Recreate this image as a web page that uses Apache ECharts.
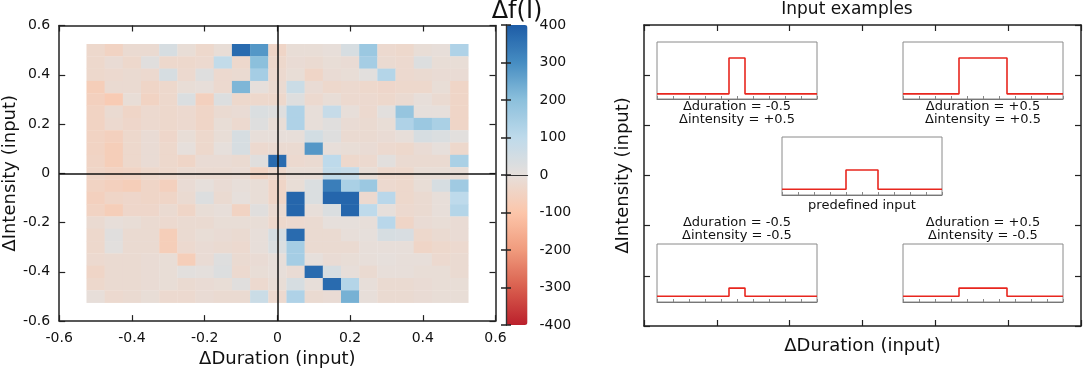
<!DOCTYPE html>
<html>
<head>
<meta charset="utf-8">
<script src="https://cdn.jsdelivr.net/npm/echarts@6/dist/echarts.min.js"></script>
<style>
  html, body { margin: 0; padding: 0; background: #fff; }
  #chart { width: 1084px; height: 373px; }
</style>
</head>
<body>
<div id="chart"></div>
<script>
// x categories (ΔDuration) and y categories (ΔIntensity, top row first)
var durations = [-0.5, -0.45, -0.4, -0.35, -0.3, -0.25, -0.2, -0.15, -0.1, -0.05, 0,
                 0.05, 0.1, 0.15, 0.2, 0.25, 0.3, 0.35, 0.4, 0.45, 0.5];
var intensities = [0.5, 0.45, 0.4, 0.35, 0.3, 0.25, 0.2, 0.15, 0.1, 0.05, 0,
                   -0.05, -0.1, -0.15, -0.2, -0.25, -0.3, -0.35, -0.4, -0.45, -0.5];

// Δf(I), one row per intensity
var deltaF = [
  [-30,-50,-20,-20, 40,-10,-30,-10,370,280,-40,-10,-10, -5, 40,170,-25,-30,-10, -5,130],
  [-30,-15,-30, 15,-30,-30,-25, 90,-30,200,-30,-15,-20,-10,-15,150,-20,-25, 25,-10,-10],
  [-30,-25,-20,-25, 40,-25, 20,-25,-20,150,-25,-10,-40,-15,-10, 10,120,-25,-20,-15,-15],
  [-70,-20,-20,-40,-30,-10, -5,-25,220,  0,-20, 70,-15,-30,-25,-30,-35,-30,-30,-10,-40],
  [-60,-80,-10,-50,-30, 30,-60, 25,-30,-30,-30, 20,-25,-10,-25,-25,-30,-20, -5,-20,-40],
  [-50,-20,-40,-25,-30,-25,-40,-20,-15, 30, 20,130, -5, 80, -5,-25, 10,180,  0,  0,-40],
  [-50,-25,-35,-25,-30,-25,-40,-10,-25, 20,-10,130, -5, 15,-15,-20,-10,130,170,140,-40],
  [-50,-60,-30,-15,-35,-10,-30,-10, 40, -5, -5, -5, 50, 20,-20,-20,-15, -5, 40, 30, 10],
  [-50,-70,-30,-15,-30,  0,-30,  0, 40,-25,-20,-20,280, -5,-10,-15,-25,-30,-15,  0,-30],
  [-45,-70,-30,-15,-30,-40,-15,-15,-20, 15,370,-25,-20,100,-30,-25, 10,-20,-20,-20,140],
  [-40,-50,-45,-30,-30,-20,-20,-20,-15,-50,-30,-10,-10, 90, 80,-10,-30,-30,-10,-10,-10],
  [-50,-60,-70,-40,-60,-15,  0,-15, -5,-10,-40,-10, 30,330,140,170,-25,-30,-10, 40,160],
  [-60,-40,-35,-40,-40,-20, 25,-20,  0,-10,-40,380, 30,380,380,-25,110,-30,-20, -5,100],
  [-50,-70,-35,-35,-20,-40,-10, -5,-50, 15,-20,380, -5, 30,380,100,  0,-25,-20, -5,120],
  [-20, -5,-10,-20,-25,-20,-20,-10,-10,-10,-30,-25,-20,  0,  0, -5,110,-40,-15,-10,-15],
  [-30, 15,-20,-20,-70,-20,-10,-15,-20, -5, 40,370,-20,-20, -5,  0, 40, 35,-30,-20,-15],
  [-30, 10,-20,-20,-70,-25,-15,-20,-25, -5, 30,150,-20,-20,-20, -5, -5, -5,-40,-30,-25],
  [-25,-20,-20,-15,-10,-70,-15, 20,-20,-15, -5,150,  0,-15,-10, -5,  0, -5, -5,-25,-20],
  [-40,-20,-20,-15,-10, 10,  5, 25,-25,-10, -5,-15,370, 40, -5,-20, -5, -5,-10,-10,-20],
  [-30,-20,-20,-15,-10,-20,-15,-10, 15,-25,-10, 40, -5,370,120, -5,-20,-20,-15,-10,-10],
  [ -5,-25,-20,-10,-25,-25,-15,-20,-20, 70,-25,130,-20,-15,230, -5,-20,-20,-15,-10,-10]
];

// colour bar ticks
var barTicks = [-400, -300, -200, -100, 0, 100, 200, 300, 400];

// input example pulses: TL, TR, centre, BL, BR
var pulseStart = [4.5, 3.5, 4, 4.5, 3.5];
var pulseEnd   = [5.5, 6.5, 6, 5.5, 6.5];
var pulseLevel = [0.72, 0.72, 0.43, 0.24, 0.24];
var baseLevel  = [0.09, 0.09, 0.1, 0.1, 0.1];
var insetLabels = [
  ['Δduration = -0.5', 'Δintensity = +0.5'],
  ['Δduration = +0.5', 'Δintensity = +0.5'],
  ['predefined input'],
  ['Δduration = -0.5', 'Δintensity = -0.5'],
  ['Δduration = +0.5', 'Δintensity = -0.5']
];

var FONT = 'DejaVu Sans';
var AX = '#222';

var heatData = [];
intensities.forEach(function (y, r) {
  durations.forEach(function (x, c) {
    heatData.push([x, y, deltaF[r][c]]);
  });
});
var cellW = Math.abs(durations[1] - durations[0]);
var cellH = Math.abs(intensities[0] - intensities[1]);

// inset boxes
var insetBoxes = [
  { left: 657, top: 42, width: 160, height: 57 },
  { left: 903, top: 42, width: 160, height: 57 },
  { left: 782, top: 137, width: 160, height: 58 },
  { left: 657, top: 244, width: 160, height: 58 },
  { left: 903, top: 244, width: 160, height: 58 }
];

var grids = [
  { left: 57.5, top: 25.5, width: 438, height: 300 },   // heatmap
  { left: 506, top: 25, width: 21.5, height: 300 },     // colour bar axis
  { left: 644, top: 25, width: 437, height: 301 }       // input examples panel
];
insetBoxes.forEach(function (b) {
  grids.push({ left: b.left, top: b.top, width: b.width, height: b.height,
               show: true, borderColor: '#8a8a8a', borderWidth: 1, backgroundColor: '#fff' });
});

function valAxis(grid, pos, opts) {
  var a = {
    type: 'value', gridIndex: grid, position: pos, min: -0.6, max: 0.6, interval: 0.2,
    axisLine: { show: true, onZero: false, lineStyle: { color: AX, width: 1.5 } },
    axisTick: { show: true, inside: true, length: 6, lineStyle: { color: AX, width: 1.2 } },
    axisLabel: { show: false },
    splitLine: { show: false }
  };
  return Object.assign(a, opts || {});
}

var xAxes = [
  valAxis(0, 'bottom', {
    axisLabel: { show: true, color: '#111', fontSize: 14, margin: 10, fontFamily: FONT,
      formatter: function (v) { return +v.toFixed(1) + ''; } },
    name: 'ΔDuration (input)', nameLocation: 'middle', nameGap: 28,
    nameTextStyle: { fontSize: 18, color: '#111', fontFamily: FONT }
  }),
  valAxis(0, 'top'),
  { type: 'value', gridIndex: 1, position: 'bottom', min: 0, max: 1, z: 10,
    axisLine: { show: true, lineStyle: { color: '#333', width: 1.2 } },
    axisTick: { show: false }, axisLabel: { show: false }, splitLine: { show: false } },
  { type: 'value', gridIndex: 1, position: 'top', min: 0, max: 1, z: 10,
    axisLine: { show: true, lineStyle: { color: '#333', width: 1.2 } },
    axisTick: { show: false }, axisLabel: { show: false }, splitLine: { show: false } },
  valAxis(2, 'bottom', {
    name: 'ΔDuration (input)', nameLocation: 'middle', nameGap: 11,
    nameTextStyle: { fontSize: 18, color: '#111', fontFamily: FONT, verticalAlign: 'top' }
  }),
  valAxis(2, 'top')
];
var yAxes = [
  valAxis(0, 'left', {
    axisLabel: { show: true, color: '#111', fontSize: 14, margin: 9, fontFamily: FONT,
      formatter: function (v) { return +v.toFixed(1) + ''; } },
    name: 'ΔIntensity (input)', nameLocation: 'middle', nameGap: 38,
    nameTextStyle: { fontSize: 18, color: '#111', fontFamily: FONT }
  }),
  valAxis(0, 'right'),
  { type: 'value', gridIndex: 1, position: 'left', min: barTicks[0], max: barTicks[barTicks.length - 1],
    interval: 100, z: 10,
    axisLine: { show: true, lineStyle: { color: '#333', width: 1.2 } },
    axisTick: { show: true, inside: true, length: 5, lineStyle: { color: '#222', width: 1.5 } },
    axisLabel: { show: false }, splitLine: { show: false } },
  { type: 'value', gridIndex: 1, position: 'right', min: barTicks[0], max: barTicks[barTicks.length - 1],
    interval: 100, z: 10,
    axisLine: { show: true, lineStyle: { color: '#333', width: 1.2 } },
    axisTick: { show: true, inside: true, length: 5, lineStyle: { color: '#222', width: 1.5 } },
    axisLabel: { show: true, color: '#111', fontSize: 14, margin: 12, fontFamily: FONT },
    splitLine: { show: false } },
  valAxis(2, 'left', {
    name: 'ΔIntensity (input)', nameLocation: 'middle', nameGap: 12,
    nameTextStyle: { fontSize: 18, color: '#111', fontFamily: FONT, verticalAlign: 'bottom' }
  }),
  valAxis(2, 'right')
];

var series = [
  {
    type: 'custom', xAxisIndex: 0, yAxisIndex: 0, data: heatData, encode: { x: 0, y: 1 },
    renderItem: function (params, api) {
      var p = api.coord([api.value(0) - cellW / 2, api.value(1) + cellH / 2]);
      var s = api.size([cellW, cellH]);
      return { type: 'rect',
        shape: { x: p[0], y: p[1], width: s[0] + 0.3, height: s[1] + 0.3 },
        style: { fill: api.visual('color') } };
    }
  },
  {
    type: 'line', xAxisIndex: 0, yAxisIndex: 0, data: [], z: 5, silent: true,
    markLine: { symbol: 'none', silent: true, animation: false, label: { show: false },
      lineStyle: { color: '#111', width: 1.5, type: 'solid' },
      data: [{ xAxis: 0 }, { yAxis: 0 }] }
  }
];

insetBoxes.forEach(function (b, k) {
  var gi = 3 + k;
  xAxes.push({ type: 'value', gridIndex: gi, min: 0, max: 10, interval: 1,
    axisLine: { show: true, lineStyle: { color: '#777', width: 1 } },
    axisTick: { show: true, inside: true, length: 3, lineStyle: { color: '#888' } },
    axisLabel: { show: false }, splitLine: { show: false } });
  yAxes.push({ type: 'value', gridIndex: gi, min: 0, max: 1, show: false, splitLine: { show: false } });
  var b0 = baseLevel[k], p = pulseLevel[k];
  series.push({
    type: 'line', xAxisIndex: xAxes.length - 1, yAxisIndex: yAxes.length - 1,
    symbol: 'none', silent: true, animation: false,
    lineStyle: { color: '#e8261e', width: 1.6 },
    data: [[0, b0], [pulseStart[k], b0], [pulseStart[k], p], [pulseEnd[k], p],
           [pulseEnd[k], b0], [10, b0]]
  });
});

var graphics = [
  { type: 'text',
    style: { text: 'Δf(I)', x: 517, y: 12, textAlign: 'center', textVerticalAlign: 'middle',
      font: '24px "DejaVu Sans"', fill: '#111' } },
  { type: 'text',
    style: { text: 'Input examples', x: 847, y: 10, textAlign: 'center', textVerticalAlign: 'middle',
      font: '17px "DejaVu Sans"', fill: '#111' } }
];
var labelOffset = [8, 8, 11, -21, -21];
insetBoxes.forEach(function (b, k) {
  var cx = b.left + b.width / 2;
  var lines = insetLabels[k];
  var y0 = k < 3 ? b.top + b.height + labelOffset[k] : b.top + labelOffset[k];
  lines.forEach(function (t, i) {
    graphics.push({ type: 'text',
      style: { text: t, x: cx, y: y0 + i * 12.5, textAlign: 'center', textVerticalAlign: 'middle',
        font: '13px "DejaVu Sans"', fill: '#111' } });
  });
});

var chart = echarts.init(document.getElementById('chart'));
chart.setOption({
  animation: false,
  backgroundColor: '#fff',
  textStyle: { fontFamily: FONT },
  grid: grids,
  xAxis: xAxes,
  yAxis: yAxes,
  visualMap: {
    type: 'continuous', seriesIndex: 0, dimension: 2,
    min: barTicks[0], max: barTicks[barTicks.length - 1],
    calculable: false, realtime: false, padding: 0,
    left: 506, top: 25, itemWidth: 21.5, itemHeight: 300, text: null, showLabel: false,
    inRange: { color: ['#bb202c', '#d95f4e', '#f09b7d', '#fcc6aa', '#e6dfdb',
                       '#bedaeb', '#8cc0dc', '#468dc2', '#1d5ca7'] }
  },
  graphic: graphics,
  series: series
});
</script>
</body>
</html>
